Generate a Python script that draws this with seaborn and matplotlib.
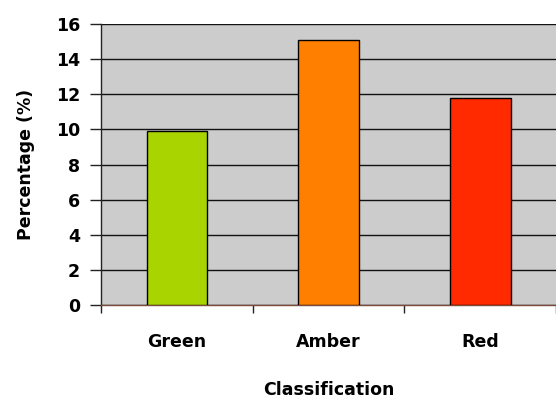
import matplotlib
matplotlib.use("Agg")
import matplotlib.pyplot as plt
import seaborn as sns
import pandas as pd

categories = ["Green", "Amber", "Red"]
percentages = [9.9, 15.1, 11.8]
bar_colors = ["#AAD400", "#FF7F00", "#FF2A00"]
y_ticks = [0, 2, 4, 6, 8, 10, 12, 14, 16]

sns.set_style("white")
plt.rcParams["font.family"] = ["DejaVu Sans"]
plt.rcParams["text.color"] = "black"
plt.rcParams["axes.labelcolor"] = "black"
plt.rcParams["xtick.color"] = "black"
plt.rcParams["ytick.color"] = "black"

df = pd.DataFrame({"Classification": categories, "Percentage": percentages})

fig = plt.figure(figsize=(5.56, 4.03), dpi=100)
ax = fig.add_axes([0.1817, 0.2432, 0.8183, 0.6972])
ax.set_facecolor("#CCCCCC")

sns.barplot(data=df, x="Classification", y="Percentage", hue="Classification",
            palette=bar_colors, saturation=1, width=0.4, edgecolor="black",
            linewidth=1, legend=False, ax=ax, zorder=3)

ax.set_ylim(0, 16)
ax.set_xlim(-0.5, 2.5)
ax.set_yticks(y_ticks)
ax.yaxis.grid(True, color="#111111", linewidth=1, zorder=0)
ax.set_axisbelow(True)

for side in ["top", "right"]:
    ax.spines[side].set_visible(False)
ax.spines["left"].set_color("#222222")
ax.spines["left"].set_linewidth(1)
ax.spines["bottom"].set_color("#7A4A3A")
ax.spines["bottom"].set_linewidth(1)

ax.tick_params(axis="y", which="major", direction="out", length=8, width=1,
               color="#222222", labelsize=12.5, pad=7, left=True)
ax.set_xticks([-0.5, 0.5, 1.5, 2.5], minor=True)
ax.tick_params(axis="x", which="minor", direction="out", length=6, width=1,
               color="#222222", bottom=True)
ax.tick_params(axis="x", which="major", length=0, labelsize=12.5, pad=20)
for lbl in ax.get_xticklabels() + ax.get_yticklabels():
    lbl.set_fontweight("bold")

ax.set_xlabel("Classification", fontsize=12.5, fontweight="bold", labelpad=22)
ax.set_ylabel("Percentage (%)", fontsize=12.5, fontweight="bold", labelpad=15)

fig.savefig("out.png", dpi=100)
